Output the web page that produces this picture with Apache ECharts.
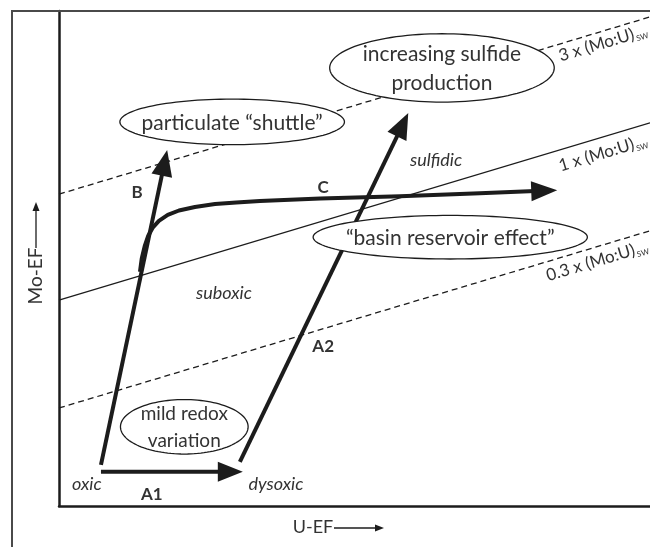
<!DOCTYPE html>
<html>
<head>
<meta charset="utf-8">
<script src="https://cdn.jsdelivr.net/npm/echarts@6/dist/echarts.min.js"></script>
<style>
  html, body { margin: 0; padding: 0; background: #fff; }
  #chart { width: 650px; height: 547px; }
</style>
</head>
<body>
<div id="chart"></div>
<script>
// Mo-EF vs U-EF redox framework, drawn in schematic units (0-100 on both axes)

// Seawater Mo:U reference lines, [x, y] end points
const ratio3x = [[0, 63.0], [100, 98.8]];
const ratio1x = [[0, 41.6], [100, 77.4]];
const ratio03x = [[0, 19.8], [100, 55.6]];
const ratioLabelPos = [[92.0, 93.7], [92.0, 71.5], [91.0, 49.7]];
const ratioLabelText = ['3 x (Mo:U)', '1 x (Mo:U)', '0.3 x (Mo:U)'];

// Redox pathways
const pathA1 = [[7.1, 6.9], [31.1, 6.9]];
const pathB = [[7.1, 8.3], [18.3, 71.9]];
const pathA2 = [[30.6, 8.9], [59.1, 79.4]];
const pathC = [
  [13.7, 47.3], [14.0, 50.0], [14.5, 52.5], [15.1, 54.6], [15.9, 56.3],
  [16.9, 57.6], [18.4, 58.8], [20.3, 59.7], [23.0, 60.4], [26.4, 61.0],
  [30.0, 61.3], [34.0, 61.6], [44.2, 62.1], [57.7, 62.6], [71.2, 63.2],
  [84.3, 63.8]
];

// Process bubbles: centre and half-extent in axis units
const bubbleCentres = [[29.3, 77.6], [64.8, 88.5], [66.2, 54.3], [21.2, 16.0]];
const bubbleRadii = [[19.0, 4.6], [19.0, 6.9], [23.2, 4.4], [10.8, 5.5]];
const bubbleText = [
  'particulate \u201Cshuttle\u201D',
  'increasing sulfide\nproduction',
  '\u201Cbasin reservoir effect\u201D',
  'mild redox\nvariation'
];
const bubbleFontSize = [21, 21, 21, 19];

// Redox regime names (italic)
const regimePos = [[4.7, 4.4], [36.7, 4.4], [27.9, 43.0], [63.8, 69.9]];
const regimeText = ['oxic', 'dysoxic', 'suboxic', 'sulfidic'];

// Pathway tags (bold)
const tagPos = [[15.7, 2.4], [13.2, 63.4], [44.7, 64.4], [44.7, 32.3]];
const tagText = ['A1', 'B', 'C', 'A2'];

const FONT = 'Lato, "Open Sans", sans-serif';
const INK = '#1c1c1c';
const TEXT = '#333';

function ratioLine(points, dashed) {
  return {
    type: 'line',
    data: points,
    symbol: 'none',
    silent: true,
    z: 1,
    lineStyle: { color: INK, width: 1.3, type: dashed ? [6, 4] : 'solid' }
  };
}

function arrowSeries(points, headLen, headHalf) {
  return {
    type: 'custom',
    coordinateSystem: 'cartesian2d',
    data: [points[0]],
    silent: true,
    clip: false,
    z: 3,
    renderItem: function (params, api) {
      const px = points.map(function (p) { return api.coord(p); });
      const tip = px[px.length - 1];
      const prev = px[px.length - 2];
      const dx = tip[0] - prev[0], dy = tip[1] - prev[1];
      const d = Math.hypot(dx, dy);
      const ux = dx / d, uy = dy / d, nx = -uy, ny = ux;
      const base = [tip[0] - ux * headLen, tip[1] - uy * headLen];
      const shaftEnd = [tip[0] - ux * (headLen - 4), tip[1] - uy * (headLen - 4)];
      const shaft = px.slice(0, -1).concat([shaftEnd]);
      return {
        type: 'group',
        children: [
          {
            type: 'polyline',
            shape: { points: shaft },
            style: { stroke: INK, lineWidth: 4, fill: null, lineJoin: 'round' }
          },
          {
            type: 'polygon',
            shape: { points: [tip,
              [base[0] + nx * headHalf, base[1] + ny * headHalf],
              [base[0] - nx * headHalf, base[1] - ny * headHalf]] },
            style: { fill: INK }
          }
        ]
      };
    }
  };
}

const bubbleSeries = {
  type: 'custom',
  coordinateSystem: 'cartesian2d',
  data: bubbleCentres.map(function (c, i) { return [c[0], c[1], bubbleRadii[i][0], bubbleRadii[i][1]]; }),
  silent: true,
  clip: false,
  z: 5,
  renderItem: function (params, api) {
    const c = api.coord([api.value(0), api.value(1)]);
    const s = api.size([api.value(2), api.value(3)]);
    const pts = [];
    for (let k = 0; k < 120; k++) {
      const t = k / 120 * Math.PI * 2;
      pts.push([c[0] + s[0] * Math.cos(t), c[1] + s[1] * Math.sin(t)]);
    }
    const fs = bubbleFontSize[params.dataIndex];
    return {
      type: 'group',
      children: [
        { type: 'polygon', shape: { points: pts }, style: { fill: '#fff', stroke: INK, lineWidth: 1.3 } },
        {
          type: 'text', x: c[0], y: c[1] + 1,
          style: {
            text: bubbleText[params.dataIndex], fill: TEXT,
            font: fs + 'px ' + FONT, align: 'center', verticalAlign: 'middle',
            lineHeight: fs >= 21 ? 29 : 27
          }
        }
      ]
    };
  }
};

function textSeries(pos, texts, font) {
  return {
    type: 'custom',
    coordinateSystem: 'cartesian2d',
    data: pos,
    silent: true,
    clip: false,
    z: 6,
    renderItem: function (params, api) {
      const c = api.coord([api.value(0), api.value(1)]);
      return {
        type: 'text', x: c[0], y: c[1],
        style: { text: texts[params.dataIndex], fill: TEXT, font: font, align: 'center', verticalAlign: 'middle' }
      };
    }
  };
}

const ratioLines = [ratio3x, ratio1x, ratio03x];
const ratioLabelSeries = {
  type: 'custom',
  coordinateSystem: 'cartesian2d',
  data: ratioLabelPos,
  silent: true,
  clip: false,
  z: 6,
  renderItem: function (params, api) {
    const line = ratioLines[params.dataIndex];
    const a = api.coord(line[0]), b = api.coord(line[1]);
    const angle = Math.atan2(a[1] - b[1], b[0] - a[0]);
    const c = api.coord([api.value(0), api.value(1)]);
    return {
      type: 'text', x: c[0], y: c[1], rotation: angle,
      style: {
        text: '{a|' + ratioLabelText[params.dataIndex] + '}{s|SW}',
        align: 'center', verticalAlign: 'middle', fill: TEXT,
        rich: {
          a: { font: '17px ' + FONT, fill: TEXT, lineHeight: 19, verticalAlign: 'bottom' },
          s: { font: '8px ' + FONT, fill: TEXT, lineHeight: 8, verticalAlign: 'bottom', padding: [0, 0, -1, 1] }
        }
      }
    };
  }
};

const chart = echarts.init(document.getElementById('chart'), null, { renderer: 'canvas' });
chart.setOption({
  animation: false,
  backgroundColor: '#fff',
  grid: { left: 59, right: 0, top: 11, bottom: 41, containLabel: false },
  xAxis: {
    type: 'value', min: 0, max: 100,
    axisLine: { show: true, onZero: false, lineStyle: { color: INK, width: 2.5 } },
    axisTick: { show: false }, axisLabel: { show: false }, splitLine: { show: false }
  },
  yAxis: {
    type: 'value', min: 0, max: 100,
    axisLine: { show: true, onZero: false, lineStyle: { color: INK, width: 2.5 } },
    axisTick: { show: false }, axisLabel: { show: false }, splitLine: { show: false }
  },
  graphic: [
    // outer frame
    { type: 'polyline', shape: { points: [[12, 547], [12, 11], [650, 11]] },
      style: { stroke: '#4a4a4a', lineWidth: 2, fill: null }, z: 10 },
    // x axis title
    { type: 'text', x: 313, y: 527, style: { text: 'U-EF', font: '18px ' + FONT, fill: TEXT, align: 'center', verticalAlign: 'middle' } },
    { type: 'line', shape: { x1: 334, y1: 528, x2: 377, y2: 528 }, style: { stroke: INK, lineWidth: 1.3 } },
    { type: 'polygon', shape: { points: [[384, 528], [375, 524.5], [375, 531.5]] }, style: { fill: INK } },
    // y axis title
    { type: 'text', x: 36, y: 276, rotation: Math.PI / 2,
      style: { text: 'Mo-EF', font: '19px ' + FONT, fill: TEXT, align: 'center', verticalAlign: 'middle' } },
    { type: 'line', shape: { x1: 36, y1: 248, x2: 36, y2: 209 }, style: { stroke: INK, lineWidth: 1.3 } },
    { type: 'polygon', shape: { points: [[36, 202], [32.5, 211], [39.5, 211]] }, style: { fill: INK } }
  ],
  series: [
    ratioLine(ratio3x, true),
    ratioLine(ratio1x, false),
    ratioLine(ratio03x, true),
    arrowSeries(pathA1, 25, 10),
    arrowSeries(pathB, 26, 10.5),
    arrowSeries(pathA2, 26, 10.5),
    arrowSeries(pathC, 26, 10),
    bubbleSeries,
    textSeries(regimePos, regimeText, 'italic 18px ' + FONT),
    textSeries(tagPos, tagText, 'bold 17px ' + FONT),
    ratioLabelSeries
  ]
});
</script>
</body>
</html>
